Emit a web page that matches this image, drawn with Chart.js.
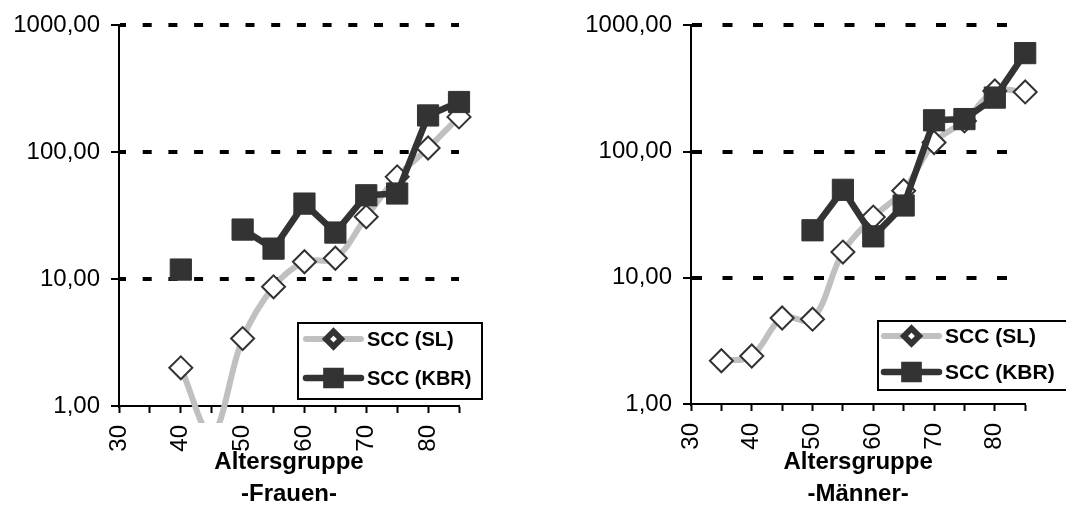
<!DOCTYPE html>
<html>
<head>
<meta charset="utf-8">
<script src="https://cdn.jsdelivr.net/npm/chart.js@4.4.1/dist/chart.umd.min.js"></script>
<style>
  body { margin: 0; background: #fff; }
  #wrap { position: relative; width: 1066px; height: 510px; overflow: hidden; }
  canvas { position: absolute; top: 0; }
  #frauen { left: 0; }
  #maenner { left: 533px; }
</style>
</head>
<body>
<div id="wrap">
  <canvas id="frauen" width="533" height="510"></canvas>
  <canvas id="maenner" width="533" height="510"></canvas>
</div>
<script>
// --- Data ---
const ages = [30, 35, 40, 45, 50, 55, 60, 65, 70, 75, 80, 85];

const frauenSL  = [null, null, 2.0, 0.6, 3.4, 8.7, 13.7, 14.6, 31, 64, 108, 190];
const frauenKBR = [null, null, 11.9, null, 24.6, 17.4, 39.4, 23.3, 45.8, 47.3, 195, 249];

const maennerSL  = [null, 2.2, 2.4, 4.8, 4.7, 16.0, 30.3, 49, 118, 175, 302, 297];
const maennerKBR = [null, null, null, null, 23.8, 49.8, 21.3, 37.4, 177, 181, 268, 603];

const seriesNames = ["SCC (SL)", "SCC (KBR)"];
const xTickValues = [30, 35, 40, 45, 50, 55, 60, 65, 70, 75, 80, 85];
const xTickLabels = [30, 40, 50, 60, 70, 80];
const yTickValues = [1, 10, 100, 1000];

Chart.defaults.font.family = '"Liberation Sans", Arial, sans-serif';
Chart.defaults.color = "#000";

const SL_LINE = "#c0c0c0";
const DARK = "#333333";

// legend box drawn inside the plot, like the original
const boxLegend = {
  id: "boxLegend",
  afterDraw(chart, args, o) {
    const ctx = chart.ctx;
    ctx.save();
    ctx.fillStyle = "#fff";
    ctx.fillRect(o.x, o.y, o.w, o.h);
    ctx.lineWidth = 2;
    ctx.strokeStyle = "#000";
    ctx.strokeRect(o.x, o.y, o.w, o.h);

    chart.data.datasets.forEach((ds, i) => {
      const y = o.rows[i];
      ctx.beginPath();
      ctx.lineCap = "round";
      ctx.lineWidth = ds.borderWidth;
      ctx.strokeStyle = ds.borderColor;
      ctx.moveTo(o.x1, y);
      ctx.lineTo(o.x2, y);
      ctx.stroke();

      ctx.fillStyle = ds.pointBackgroundColor;
      ctx.strokeStyle = ds.pointBorderColor;
      Chart.helpers.drawPoint(ctx, {
        pointStyle: ds.pointStyle,
        radius: o.markers[i],
        borderWidth: o.markerBorder[i],
        rotation: 0
      }, (o.x1 + o.x2) / 2, y);

      ctx.fillStyle = "#000";
      ctx.font = "bold " + o.fontSize + 'px "Liberation Sans", Arial, sans-serif';
      ctx.textAlign = "left";
      ctx.textBaseline = "middle";
      ctx.fillText(ds.label, o.tx, y + 1);
    });
    ctx.restore();
  }
};

function toPoints(values) {
  return ages.map((a, i) => ({ x: a, y: values[i] }));
}

function makeChart(id, slValues, kbrValues, sexLabel, look) {
  return new Chart(document.getElementById(id), {
    type: "line",
    data: {
      datasets: [
        {
          label: seriesNames[0],
          data: toPoints(slValues),
          order: 2,
          borderColor: SL_LINE,
          borderWidth: 6,
          borderJoinStyle: "round",
          borderCapStyle: "round",
          tension: 0.35,
          capBezierPoints: false,
          pointStyle: "rectRot",
          pointRadius: 11.5,
          pointBorderWidth: 2,
          pointBorderColor: DARK,
          pointBackgroundColor: "#fff",
          spanGaps: false,
          clip: { left: 15, top: 15, right: 15, bottom: 17 }
        },
        {
          label: seriesNames[1],
          data: toPoints(kbrValues),
          order: 1,
          borderColor: DARK,
          borderWidth: 6.5,
          borderJoinStyle: "round",
          tension: 0,
          pointStyle: "rect",
          pointRadius: 15,
          pointBorderWidth: 1,
          pointBorderColor: DARK,
          pointBackgroundColor: DARK,
          spanGaps: false,
          clip: { left: 15, top: 15, right: 15, bottom: 17 }
        }
      ]
    },
    options: {
      responsive: false,
      animation: false,
      devicePixelRatio: 1,
      layout: { padding: { left: 0, right: look.padRight, top: look.padTop, bottom: 0 } },
      plugins: {
        legend: { display: false },
        tooltip: { enabled: false },
        boxLegend: look.legend
      },
      scales: {
        x: {
          type: "linear",
          min: 30,
          max: 85,
          afterBuildTicks: s => { s.ticks = xTickValues.map(v => ({ value: v })); },
          afterFit: s => { s.height = look.xHeight; },
          ticks: {
            autoSkip: false,
            minRotation: 90,
            maxRotation: 90,
            padding: 12,
            font: { size: 24 },
            color: "#000",
            callback: v => xTickLabels.includes(v) ? String(v) : ""
          },
          grid: { drawOnChartArea: false, tickLength: 7, tickWidth: 2, tickColor: "#000" },
          border: { color: "#000", width: 2 },
          title: {
            display: true,
            text: ["Altersgruppe", sexLabel],
            color: "#000",
            font: { size: 24, weight: "bold", lineHeight: 1.333 },
            padding: 0
          }
        },
        y: {
          type: "logarithmic",
          min: 1,
          max: 1000,
          afterBuildTicks: s => { s.ticks = yTickValues.map(v => ({ value: v })); },
          afterFit: s => { s.width = look.yWidth; },
          ticks: {
            padding: 11,
            font: { size: 24 },
            color: "#000",
            callback: v => Number(v).toFixed(2).replace(".", ",")
          },
          grid: {
            color: c => (c.tick && c.tick.value === 1) ? "rgba(0,0,0,0)" : "#000",
            lineWidth: 4,
            tickLength: 8,
            tickWidth: 2,
            tickColor: "#000"
          },
          border: { color: "#000", width: 2, dash: look.dash, dashOffset: look.dashOffset }
        }
      }
    },
    plugins: [boxLegend]
  });
}

makeChart("frauen", frauenSL, frauenKBR, "-Frauen-", {
  padRight: 74, padTop: 25, xHeight: 104, yWidth: 119,
  dash: [9, 16.7], dashOffset: 3,
  legend: { x: 298, y: 323, w: 184, h: 76, x1: 306, x2: 361, rows: [339, 378], markers: [7.5, 10], markerBorder: [1.5, 1], tx: 367, fontSize: 20 }
});

makeChart("maenner", maennerSL, maennerKBR, "-Männer-", {
  padRight: 34, padTop: 24, xHeight: 106, yWidth: 158,
  dash: [10, 20.5], dashOffset: 0,
  legend: { x: 345, y: 321, w: 220, h: 69, x1: 351, x2: 406, rows: [336, 372], markers: [7.5, 10], markerBorder: [1.5, 1], tx: 412, fontSize: 21 }
});
</script>
</body>
</html>
